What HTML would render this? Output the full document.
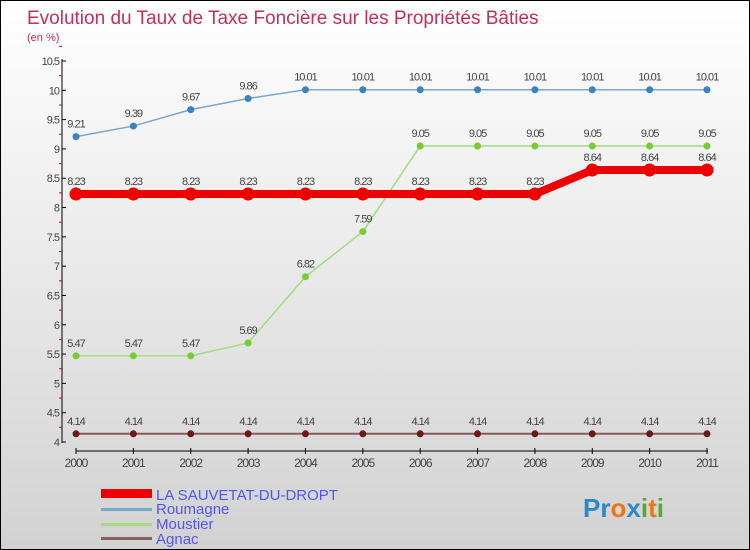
<!DOCTYPE html>
<html><head><meta charset="utf-8"><style>
body{margin:0}
#c{width:750px;height:550px;position:relative;box-sizing:border-box;border:1px solid #000;background:linear-gradient(#fff,#d2d2d2);font-family:"Liberation Sans",sans-serif;overflow:hidden}
</style></head><body>
<div id="c">
<svg id="s" width="750" height="550" style="position:absolute;left:0;top:0">
<text x="26" y="23" font-size="19" fill="#c0305e">Evolution du Taux de Taxe Foncière sur les Propriétés Bâties</text>
<text x="26" y="40" font-size="11" fill="#c0305e">(en %)</text>
<g id="axes"></g><g id="marks"></g>
<g>
<rect x="100" y="488" width="51" height="9" fill="#e00"/>
<text x="155" y="499" font-size="15" fill="#5555ee">LA SAUVETAT-DU-DROPT</text>
<rect x="100" y="507" width="51" height="3" fill="#7aa7cc"/>
<text x="155" y="513" font-size="15" fill="#5555ee">Roumagne</text>
<rect x="100" y="522" width="51" height="3" fill="#a0dd80"/>
<text x="155" y="528" font-size="15" fill="#5555ee">Moustier</text>
<rect x="100" y="536" width="51" height="3" fill="#8a6060"/>
<text x="155" y="543" font-size="15" fill="#5555ee">Agnac</text>
</g>
<text x="582" y="516" font-size="26" font-weight="bold"><tspan fill="#2a88cc">Pr</tspan><tspan fill="#ee7711">o</tspan><tspan fill="#2a88cc">x</tspan><tspan fill="#55aa33">i</tspan><tspan fill="#ee7711">t</tspan><tspan fill="#55aa33">i</tspan></text>
</svg>
</div>
<script>
const years=[2000,2001,2002,2003,2004,2005,2006,2007,2008,2009,2010,2011];
const sauvetat=[8.23,8.23,8.23,8.23,8.23,8.23,8.23,8.23,8.23,8.64,8.64,8.64];
const roumagne=[9.21,9.39,9.67,9.86,10.01,10.01,10.01,10.01,10.01,10.01,10.01,10.01];
const moustier=[5.47,5.47,5.47,5.69,6.82,7.59,9.05,9.05,9.05,9.05,9.05,9.05];
const agnac=[4.14,4.14,4.14,4.14,4.14,4.14,4.14,4.14,4.14,4.14,4.14,4.14];
const yTicks=[4,4.5,5,5.5,6,6.5,7,7.5,8,8.5,9,9.5,10,10.5];
const NS="http://www.w3.org/2000/svg";
const X=i=>75+i*(706-75)/(years.length-1);
const Y=v=>441-(v-4)*(441-60)/6.5;
function mk(t,a,p){const e=document.createElementNS(NS,t);for(const k in a)e.setAttribute(k,a[k]);p.appendChild(e);return e;}
const ax=document.getElementById('axes'),mg=document.getElementById('marks');
const ya=mk('line',{x1:61,y1:58,x2:61,y2:442,stroke:'#000'},ax);


yTicks.forEach(v=>{
 mk('line',{x1:61,x2:65,y1:Y(v),y2:Y(v),stroke:'#000'},ax);
 mk('line',{x1:58,x2:61,y1:Y(v+0.25),y2:Y(v+0.25),stroke:'#d00'},ax);
 const t=mk('text',{x:58,y:Y(v)+4,'font-size':11,'text-anchor':'end',fill:'#444','letter-spacing':'-1'},ax);
 t.textContent=String(v);
 
 
});
const xa=mk('line',{x1:75,y1:450,x2:707,y2:450,stroke:'#000'},ax);


years.forEach((y,i)=>{
 mk('line',{x1:X(i),x2:X(i),y1:447,y2:453,stroke:'#000'},ax);
 const t=mk('text',{x:X(i),y:466,'font-size':12,'text-anchor':'middle',fill:'#444','letter-spacing':'-1'},ax);
 t.textContent=String(y);
 
 
});
function series(name,vals,color,w,r,dot){
 const g=mk('g',{},mg);
 
 
 const pl=mk('polyline',{points:vals.map((v,i)=>X(i)+','+Y(v)).join(' '),fill:'none',stroke:color,'stroke-width':w},g);
 
 
 vals.forEach((v,i)=>{
  const c=mk('circle',{cx:X(i),cy:Y(v),r:r,fill:dot},g);
  
  
  const t=mk('text',{x:X(i),y:Y(v)-9,'font-size':11,'text-anchor':'middle',fill:'#444','letter-spacing':'-1'},g);
  t.textContent=String(v);
  
  
 });
}
series('agnac',agnac,'#8a5a5a',2,3.5,'#6a1a1a');
series('moustier',moustier,'#a0dd80',1.5,3.5,'#77cc33');
series('roumagne',roumagne,'#7aa7cc',1.5,3.5,'#3a82c0');
series('la-sauvetat',sauvetat,'#ee0000',8,6.5,'#ee0000');
</script>
</body></html>
